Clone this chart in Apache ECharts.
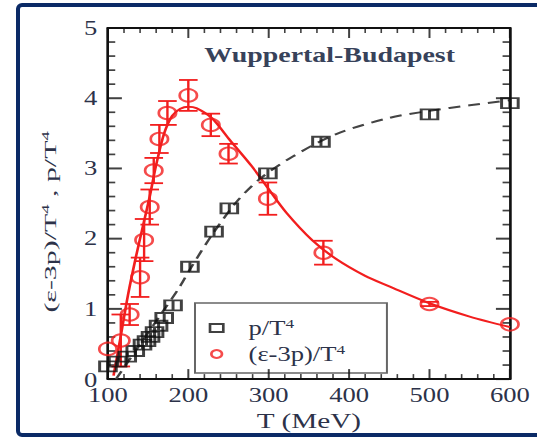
<!DOCTYPE html>
<html>
<head>
<meta charset="utf-8">
<script src="https://cdn.jsdelivr.net/npm/echarts@6/dist/echarts.min.js"></script>
<style>
  html, body { margin: 0; padding: 0; width: 537px; height: 437px; overflow: hidden; background: #fff; }
  #frame { position: absolute; left: 16px; top: 3px; width: 600px; height: 434px; box-sizing: border-box;
           border: 4px solid #0b2a66; border-radius: 6px; background: #fff; }
  /* the figure is laid out narrow and widened horizontally */
  #chart { position: absolute; left: 0; top: 0; width: 404px; height: 437px;
           transform: scaleX(1.3292); transform-origin: 0 0; }
</style>
</head>
<body>
<div id="frame"></div>
<div id="chart"></div>
<script>
// Pressure p/T^4 (lattice points)
const T_P   = [100, 112, 124, 134, 143, 148, 153, 158, 163, 170, 181, 202, 232, 251, 299, 365, 500, 600];
const P_T4  = [0.18, 0.25, 0.32, 0.40, 0.49, 0.54, 0.60, 0.67, 0.76, 0.87, 1.05, 1.60, 2.10, 2.43, 2.93, 3.38, 3.77, 3.93];

// Trace anomaly (e-3p)/T^4 with errors
const T_I   = [100, 116, 127, 140, 145, 152, 157, 164, 174, 200, 228, 250, 299, 368, 500, 600];
const I_T4  = [0.43, 0.55, 0.92, 1.45, 1.98, 2.45, 2.97, 3.42, 3.79, 4.04, 3.62, 3.21, 2.57, 1.80, 1.07, 0.78];
const I_ERR = [0, 0.37, 0.15, 0.28, 0.30, 0.25, 0.18, 0.20, 0.17, 0.22, 0.16, 0.14, 0.23, 0.17, 0.03, 0];

// Fit curve through the trace anomaly
const T_FIT_I = [107, 115, 125, 135, 145, 152, 160, 170, 180, 190, 200, 210, 229, 252, 279, 299, 322, 354, 384, 420, 450, 500, 550, 600];
const FIT_I   = [0.05, 0.55, 1.20, 1.75, 2.25, 2.60, 3.05, 3.50, 3.75, 3.85, 3.88, 3.86, 3.72, 3.40, 3.03, 2.72, 2.37, 1.98, 1.71, 1.47, 1.32, 1.08, 0.89, 0.74];

// Curve through the pressure
const T_FIT_P = [110, 130, 150, 170, 188, 203, 231, 262, 291, 330, 384, 450, 500, 550, 600];
const FIT_P   = [0.00, 0.33, 0.66, 0.99, 1.29, 1.58, 2.08, 2.55, 2.87, 3.17, 3.49, 3.72, 3.82, 3.90, 3.97];

// Axis ticks
const X_TICKS = [100, 200, 300, 400, 500, 600];
const Y_TICKS = [0, 1, 2, 3, 4, 5];
const MINOR_PER_MAJOR = 5;

const SERIF = "'Liberation Serif', 'Times New Roman', serif";
const RED = '#f21e1e';
const INK = '#2c3249';
const zip = (a, b) => a.map((v, i) => [v, b[i]]);

const X_MIN = X_TICKS[0], X_MAX = X_TICKS[X_TICKS.length - 1];
const Y_MIN = Y_TICKS[0], Y_MAX = Y_TICKS[Y_TICKS.length - 1];

// subdivisions between consecutive major ticks
function minorTicks(major) {
  const out = [];
  for (let i = 0; i + 1 < major.length; i++) {
    const step = (major[i + 1] - major[i]) / MINOR_PER_MAJOR;
    for (let k = 1; k < MINOR_PER_MAJOR; k++) out.push(major[i] + k * step);
  }
  return out;
}
const X_MINOR = minorTicks(X_TICKS);
const Y_MINOR = minorTicks(Y_TICKS);

const chart = echarts.init(document.getElementById('chart'), null, { renderer: 'svg' });

function frameAxis(extra) {
  return Object.assign({
    type: 'value',
    axisLine: { show: true, onZero: false, lineStyle: { color: '#111', width: 2 } },
    axisTick: { show: false },
    splitLine: { show: false }
  }, extra);
}

// inward tick marks: thin bars anchored on the frame, shifted half a length inside
function tickMarks(points, size, offset) {
  return {
    type: 'scatter', silent: true, z: 1, clip: false,
    data: points, symbol: 'rect', symbolSize: size, symbolOffset: offset,
    itemStyle: { color: '#111', borderWidth: 0 },
    emphasis: { disabled: true }, tooltip: { show: false }
  };
}
const MAJ = 10, MIN_L = 5, YMAJ = 10.5, YMIN_L = 5.5;
const tickSeries = [
  tickMarks(X_TICKS.map(v => [v, Y_MIN]), [1.5, MAJ], [0, -MAJ / 2]),
  tickMarks(X_MINOR.map(v => [v, Y_MIN]), [1.2, MIN_L], [0, -MIN_L / 2]),
  tickMarks(X_TICKS.map(v => [v, Y_MAX]), [1.5, MAJ], [0, MAJ / 2]),
  tickMarks(X_MINOR.map(v => [v, Y_MAX]), [1.2, MIN_L], [0, MIN_L / 2]),
  tickMarks(Y_TICKS.map(v => [X_MIN, v]), [YMAJ, 2], [YMAJ / 2, 0]),
  tickMarks(Y_MINOR.map(v => [X_MIN, v]), [YMIN_L, 1.7], [YMIN_L / 2, 0]),
  tickMarks(Y_TICKS.map(v => [X_MAX, v]), [YMAJ, 2], [-YMAJ / 2, 0]),
  tickMarks(Y_MINOR.map(v => [X_MAX, v]), [YMIN_L, 1.7], [-YMIN_L / 2, 0])
];

chart.setOption({
  animation: false,
  grid: { left: 81.2, top: 28, width: 302.4, height: 360 },
  xAxis: [
    frameAxis({
      min: X_MIN, max: X_MAX, interval: 100, position: 'bottom',
      axisLabel: { show: true, margin: 6, color: INK, fontFamily: SERIF, fontSize: 20 },
      name: 'T (MeV)', nameLocation: 'middle', nameGap: 25,
      nameTextStyle: { color: INK, fontFamily: SERIF, fontSize: 22 }
    }),
    frameAxis({
      min: X_MIN, max: X_MAX, interval: 100, position: 'top',
      axisLabel: { show: false }
    })
  ],
  yAxis: [
    frameAxis({
      min: Y_MIN, max: Y_MAX, interval: 1, position: 'left',
      axisLabel: {
        show: true, margin: 8, color: INK, fontFamily: SERIF, fontSize: 20,
        formatter: v => (v === 0 ? '{z|0}' : String(v)),
        rich: { z: { fontFamily: SERIF, fontSize: 20, color: INK, padding: [2, 0, 0, 0] } }
      }
    }),
    frameAxis({
      min: Y_MIN, max: Y_MAX, interval: 1, position: 'right',
      axisLabel: { show: false }
    })
  ],
  legend: {
    orient: 'vertical', left: 152, top: 312, itemWidth: 10, itemHeight: 8, itemGap: 5,
    selectedMode: false,
    formatter: function (name) {
      return name === 'p' ? '{a|p/T}{s|4}' : '{a|(ε-3p)/T}{s|4}';
    },
    textStyle: {
      padding: [0, 0, 0, 14],
      rich: {
        a: { fontFamily: SERIF, fontSize: 20, color: INK, lineHeight: 22 },
        s: { fontFamily: SERIF, fontSize: 13, color: INK, verticalAlign: 'top', lineHeight: 13 }
      }
    },
    data: [
      { name: 'p', icon: 'rect', itemStyle: { color: 'rgba(0,0,0,0)', borderColor: '#111', borderWidth: 2 } },
      { name: 'i', icon: 'circle', itemStyle: { color: 'rgba(0,0,0,0)', borderColor: RED, borderWidth: 2 } }
    ]
  },
  graphic: [
    {
      type: 'rect', z: 0, silent: true,
      shape: { x: 146.7, y: 303, width: 144.4, height: 70 },
      style: { fill: '#fff', stroke: '#666', lineWidth: 1.5 }
    },
    {
      type: 'text', silent: true, x: 248, y: 55,
      style: { text: 'Wuppertal-Budapest', font: "bold 21px 'Liberation Serif', serif", fill: '#37425a',
               align: 'center', verticalAlign: 'middle' }
    },
    {
      type: 'text', silent: true, x: 37.6, y: 222, rotation: Math.PI / 2, scaleX: 2.3,
      style: {
        text: '{a|(ε-3p)/T}{s|4}{a| , p/T}{s|4}',
        align: 'center', verticalAlign: 'middle',
        rich: {
          a: { fontFamily: SERIF, fontSize: 13, fill: INK, lineHeight: 15 },
          s: { fontFamily: SERIF, fontSize: 8, fill: INK, verticalAlign: 'top', lineHeight: 9 }
        }
      }
    }
  ],
  series: tickSeries.concat([
    {
      name: 'fitP', type: 'line', data: zip(T_FIT_P, FIT_P), smooth: 0.3, symbol: 'none',
      lineStyle: { color: '#444', width: 2, type: [9, 6] }, z: 2
    },
    {
      name: 'fitI', type: 'line', data: zip(T_FIT_I, FIT_I), smooth: 0.3, symbol: 'none',
      lineStyle: { color: RED, width: 2 }, z: 2
    },
    {
      name: 'err', type: 'custom', z: 3,
      data: T_I.map((t, i) => [t, I_T4[i], I_ERR[i]]),
      renderItem: function (params, api) {
        const x = api.value(0), y = api.value(1), e = api.value(2);
        if (!e) return null;
        const top = api.coord([x, y + e]);
        const bot = api.coord([x, y - e]);
        const hw = 7;
        const st = { stroke: RED, lineWidth: 1.8 };
        return {
          type: 'group', children: [
            { type: 'line', shape: { x1: top[0], y1: top[1], x2: bot[0], y2: bot[1] }, style: st },
            { type: 'line', shape: { x1: top[0] - hw, y1: top[1], x2: top[0] + hw, y2: top[1] }, style: st },
            { type: 'line', shape: { x1: bot[0] - hw, y1: bot[1], x2: bot[0] + hw, y2: bot[1] }, style: st }
          ]
        };
      }
    },
    {
      name: 'p', type: 'scatter', data: zip(T_P, P_T4),
      symbol: 'path://M0,0 L16,0 L16,11 L0,11 Z M8,0 L8,11', symbolSize: [12.5, 10], z: 4,
      itemStyle: { color: 'rgba(255,255,255,0)', borderColor: '#111', borderWidth: 2 }
    },
    {
      name: 'i', type: 'scatter', data: zip(T_I, I_T4), symbol: 'circle', symbolSize: [13, 12.5], z: 4,
      itemStyle: { color: 'rgba(255,255,255,0)', borderColor: RED, borderWidth: 2 }
    }
  ])
});
</script>
</body>
</html>
